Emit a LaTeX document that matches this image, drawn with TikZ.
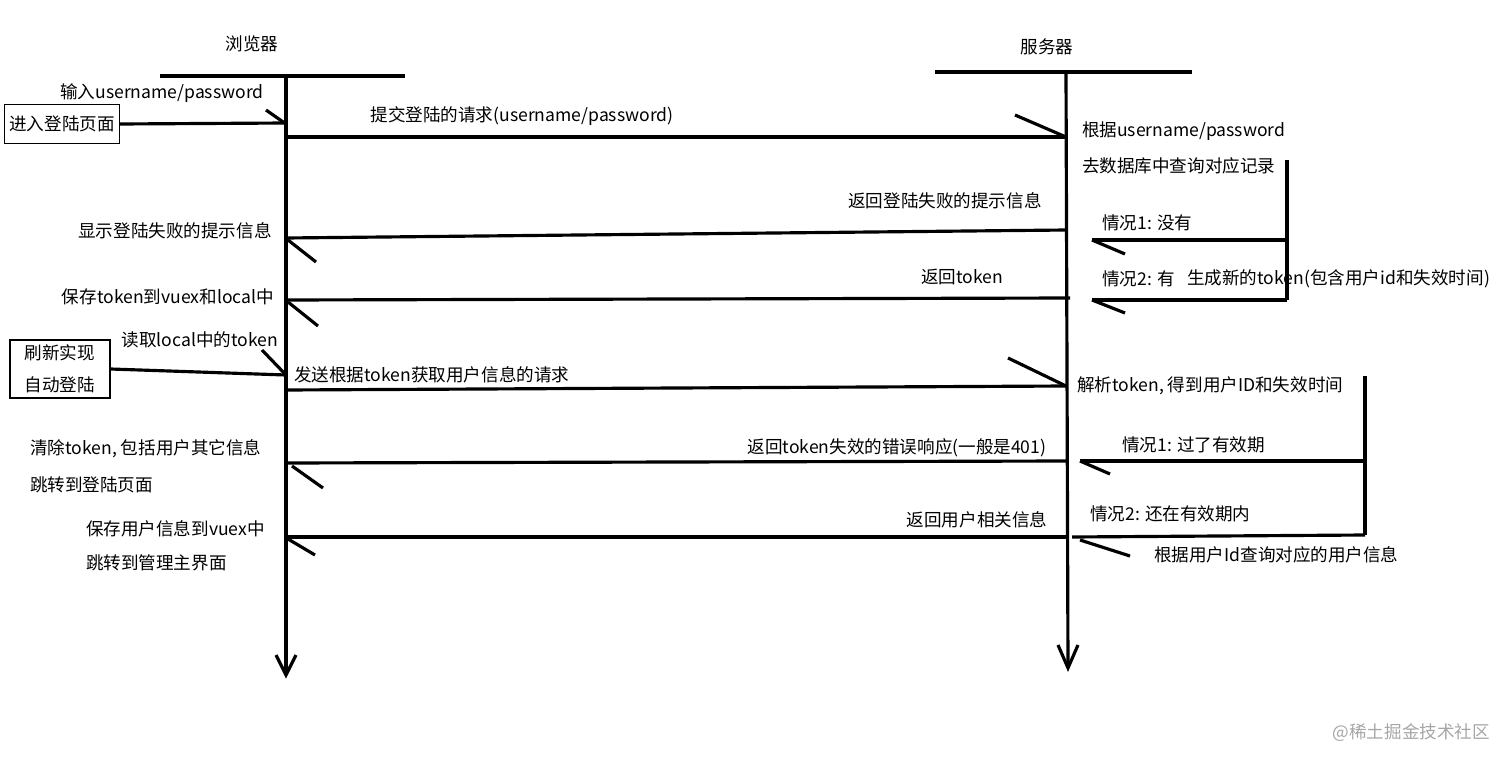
\documentclass[tikz,border=0pt]{standalone}
\usepackage{fontspec}
\newfontfamily\cjk{Noto Sans CJK SC}
\usetikzlibrary{positioning}
\tikzset{
  lbl/.style={font=\cjk\fontsize{10}{12}\selectfont, inner sep=1pt},
  wire/.style={line width=1.8pt},
  boxed/.style={draw, line width=0.6pt, font=\cjk\fontsize{10}{12}\selectfont, align=left, inner sep=2pt}
}
\begin{document}
\begin{tikzpicture}[x=0.02cm,y=-0.02cm]
        \useasboundingbox (0,0) rectangle (1512,764);

        % Lifelines
        \node[lbl] (browser) at (252,44) {浏览器};
        \node[lbl] (server) at (1047,47) {服务器};
        \draw[wire] (160,76) -- (405,76);
        \draw[wire] (935,72) -- (1192,72);
        \draw[wire] (286,76) -- (286,674);
        \draw[wire] (276,655) -- (286,675) -- (296,655);
        \draw[wire] (1066,72) -- (1068,667);
        \draw[wire] (1058,645) -- (1068,668) -- (1078,645);

        % Login request
        \node[boxed, minimum width=2.3cm, minimum height=0.78cm] (login) at (62,124) {进入登陆页面};
        \draw[wire] (login.east) -- (286,123);
        \draw[wire] (266,110) -- (286,124);
        \node[lbl] (input) at (162,93) {输入username/password};
        \draw[wire] (286,137) -- (1066,137);
        \draw[wire] (1015,115) -- (1066,137);
        \node[lbl] (submit) at (522,116) {提交登陆的请求(username/password)};
        \node[lbl, anchor=west] (query) at (1080,131) {根据username/password};
        \node[lbl, anchor=west] (querydb) at (1080,166) {去数据库中查询对应记录};

        % Server decision 1
        \draw[wire] (1287,160) -- (1287,300);
        \draw[wire] (1287,240) -- (1092,240);
        \draw[wire] (1092,240) -- (1125,254);
        \draw[wire] (1287,300) -- (1092,300);
        \draw[wire] (1092,300) -- (1125,313);
        \node[lbl, anchor=west] (caseA) at (1100,223) {情况1: 没有};
        \node[lbl, anchor=west] (caseB) at (1100,279) {情况2: 有};
        \node[lbl, anchor=west] (gen) at (1185,279) {生成新的token(包含用户id和失效时间)};

        % Login responses
        \draw[wire] (1066,230) -- (286,238);
        \draw[wire] (288,240) -- (316,262);
        \node[lbl] (failmsg) at (945,201) {返回登陆失败的提示信息};
        \node[lbl] (showfail) at (175,231) {显示登陆失败的提示信息};
        \draw[wire] (1070,298) -- (286,300);
        \draw[wire] (288,302) -- (318,326);
        \node[lbl] (rettoken) at (962,277) {返回token};
        \node[lbl] (savetoken) at (168,297) {保存token到vuex和local中};

        % Refresh request
        \node[boxed, minimum width=2cm, minimum height=1.16cm, align=center] (refresh) at (60,369) {刷新实现\\[6pt]自动登陆};
        \draw[wire] (refresh.east) -- (286,375);
        \draw[wire] (262,350) -- (286,375);
        \node[lbl] (readlocal) at (200,340) {读取local中的token};
        \draw[wire] (286,390) -- (1066,386);
        \draw[wire] (1008,358) -- (1066,386);
        \node[lbl, anchor=west] (sendreq) at (292,375) {发送根据token获取用户信息的请求};
        \node[lbl, anchor=west] (parse) at (1075,386) {解析token, 得到用户ID和失效时间};

        % Server decision 2
        \draw[wire] (1365,376) -- (1365,535);
        \draw[wire] (1365,461) -- (1080,461);
        \draw[wire] (1080,461) -- (1110,474);
        \draw[wire] (1365,535) -- (1072,537);
        \draw[wire] (1080,540) -- (1130,556);
        \node[lbl, anchor=west] (caseC) at (1120,445) {情况1: 过了有效期};
        \node[lbl, anchor=west] (caseD) at (1088,514) {情况2: 还在有效期内};
        \node[lbl, anchor=west] (lookup) at (1152,555) {根据用户Id查询对应的用户信息};

        % Refresh responses
        \draw[wire] (1066,461) -- (286,463);
        \draw[wire] (292,466) -- (323,488);
        \node[lbl] (err) at (897,448) {返回token失效的错误响应(一般是401)};
        \node[lbl, anchor=west] (clear) at (28,449) {清除token, 包括用户其它信息};
        \node[lbl, anchor=west] (tologin) at (28,485) {跳转到登陆页面};
        \draw[wire] (1066,537) -- (286,537);
        \draw[wire] (288,539) -- (315,555);
        \node[lbl] (userinfo) at (977,520) {返回用户相关信息};
        \node[lbl, anchor=west] (saveuser) at (84,529) {保存用户信息到vuex中};
        \node[lbl, anchor=west] (tomain) at (84,563) {跳转到管理主界面};

        % Watermark
        \node[lbl, text=gray!70, anchor=east] (mark) at (1492,733) {@稀土掘金技术社区};
\end{tikzpicture}
\end{document}
